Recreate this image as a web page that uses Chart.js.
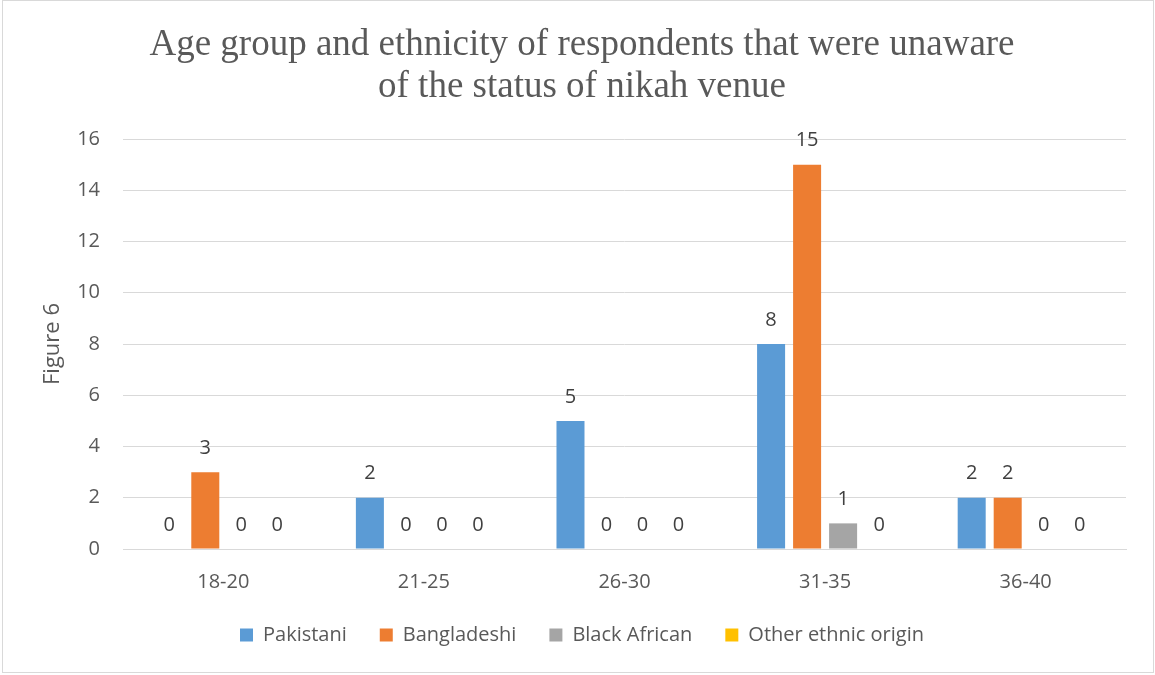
<!DOCTYPE html>
<html>
<head>
<meta charset="utf-8">
<script src="https://cdn.jsdelivr.net/npm/chart.js@4.4.1/dist/chart.umd.min.js"></script>
<style>
  html, body { margin: 0; padding: 0; background: #ffffff; }
  #wrap { position: relative; width: 1155px; height: 675px; }
  #frame { position: absolute; left: 2px; top: 0px; width: 1150px; height: 671px;
           border: 1px solid #d9d9d9; pointer-events: none; }
</style>
</head>
<body>
<div id="wrap">
  <canvas id="chart" width="1155" height="675"></canvas>
  <div id="frame"></div>
</div>
<script>
// Age bands on the category axis
const ageGroups = ['18-20', '21-25', '26-30', '31-35', '36-40'];

// Respondent counts per ethnicity, one value per age band
const pakistani = [0, 2, 5, 8, 2];
const bangladeshi = [3, 0, 0, 15, 2];
const blackAfrican = [0, 0, 0, 1, 0];
const otherEthnic = [0, 0, 0, 0, 0];

const seriesNames = ['Pakistani', 'Bangladeshi', 'Black African', 'Other ethnic origin'];
const seriesColors = ['#5b9bd5', '#ed7d31', '#a5a5a5', '#ffc000'];

const titleLines = ['Age group and ethnicity of respondents that were unaware', 'of the status of nikah venue'];
const yAxisTitle = 'Figure 6';

const labelFont = '"Open Sans", "DejaVu Sans", sans-serif';

// Value labels drawn above each bar
const valueLabels = {
  id: 'valueLabels',
  afterDatasetsDraw(chart) {
    const ctx = chart.ctx;
    ctx.save();
    ctx.font = '20px ' + labelFont;
    ctx.fillStyle = '#404040';
    ctx.textAlign = 'center';
    ctx.textBaseline = 'middle';
    chart.data.datasets.forEach((ds, di) => {
      const meta = chart.getDatasetMeta(di);
      meta.data.forEach((bar, i) => {
        ctx.fillText(String(ds.data[i]), bar.x, bar.y - 24);
      });
    });
    ctx.restore();
  }
};

const allSeries = [pakistani, bangladeshi, blackAfrican, otherEthnic];

new Chart(document.getElementById('chart'), {
  type: 'bar',
  data: {
    labels: ageGroups,
    datasets: allSeries.map((vals, i) => ({
      label: seriesNames[i],
      data: vals,
      backgroundColor: seriesColors[i],
      borderWidth: 0,
      categoryPercentage: 0.718,
      barPercentage: 0.778
    }))
  },
  plugins: [valueLabels],
  options: {
    responsive: false,
    animation: false,
    devicePixelRatio: 1,
    layout: { padding: { left: 38, right: 29, top: 0, bottom: 20 } },
    plugins: {
      tooltip: { enabled: false },
      title: {
        display: true,
        text: titleLines,
        color: '#595959',
        font: { family: '"Liberation Serif", "Times New Roman", serif', size: 37, weight: 'normal', lineHeight: '42px' },
        padding: { top: 24, bottom: 31 }
      },
      legend: {
        position: 'bottom',
        labels: {
          color: '#595959',
          font: { family: labelFont, size: 20 },
          boxWidth: 13,
          boxHeight: 13,
          padding: 33
        }
      }
    },
    scales: {
      x: {
        grid: { display: false, drawTicks: false },
        border: { display: true, color: '#d9d9d9', width: 1 },
        ticks: { color: '#595959', font: { family: labelFont, size: 20 }, padding: 21 },
        afterFit(scale) { scale.height = 43; }
      },
      y: {
        min: 0,
        max: 16,
        ticks: { stepSize: 2, color: '#595959', font: { family: labelFont, size: 20 }, padding: 23 },
        grid: { color: '#d9d9d9', lineWidth: 1, drawTicks: false },
        border: { display: false },
        title: {
          display: true,
          text: yAxisTitle,
          color: '#595959',
          font: { family: labelFont, size: 22, weight: 'normal' },
          padding: { top: 2, bottom: 0 }
        },
        afterFit(scale) { scale.width = 85; }
      }
    }
  }
});
</script>
</body>
</html>
